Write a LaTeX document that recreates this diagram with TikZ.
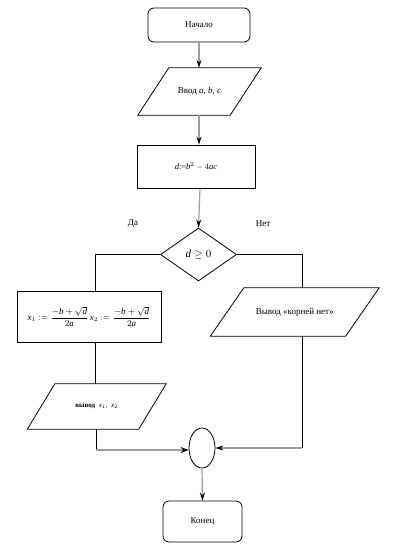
\documentclass[tikz,border=0pt]{standalone}
\usepackage{amsmath}
\usepackage{fontspec}
\setmainfont{Liberation Serif}
\usetikzlibrary{shapes.geometric,arrows.meta,calc}
\begin{document}
\begin{tikzpicture}[x=1pt,y=-1pt,
  every node/.style={font=\fontsize{9}{11}\selectfont, inner sep=1pt},
  term/.style={draw, line width=0.8pt, rounded corners=6pt},
  procbox/.style={draw, line width=0.8pt},
  iobox/.style={},
  decision/.style={draw, line width=0.8pt, diamond, aspect=1.43, inner sep=0pt},
  joint/.style={draw, line width=0.8pt, ellipse, inner sep=0pt},
  flow/.style={draw=black!38, line width=1.2pt, -{Stealth[black,length=8pt,width=5pt]}},
  thickflow/.style={draw=black!38, line width=2.2pt, -{Stealth[black,length=8pt,width=6pt]}},
  link/.style={draw, line width=0.8pt},
  iolines/.style={draw, line width=0.8pt, line join=miter}
]
\useasboundingbox (0,0) rectangle (403,551);

% nodes
\node[term, minimum width=102pt, minimum height=34pt] (start) at (199,25) {Начало};
\node[iobox, minimum width=92pt, minimum height=47pt] (in) at (199.5,91.5) {Ввод $\mathit{a}$,\ $\mathit{b}$,\ $\mathit{c}$};
\node[procbox, minimum width=118pt, minimum height=43pt] (calc) at (196,166.5) {\fontsize{8.5}{10}\selectfont$\mathit{d}$:=$\mathit{b}^2 - 4\mathit{ac}$};
\node[decision, minimum width=76pt, minimum height=53pt] (dec) at (198.5,254.5) {\fontsize{11}{13}\selectfont $\mathit{d} \geq 0$};
\node (yes) at (133,224) {Да};
\node (no) at (263,224) {Нет};
\node[procbox, minimum width=144pt, minimum height=51pt] (roots) at (89,316.5)
  {\fontsize{9}{11}\selectfont $\mathit{x}_1 := \dfrac{-\mathit{b}+\sqrt{\mathit{d}}}{2\mathit{a}}\,\mathit{x}_2 := \dfrac{-\mathit{b}+\sqrt{\mathit{d}}}{2\mathit{a}}$};
\node[iobox, minimum width=135pt, minimum height=48pt] (nor) at (294.75,312) {Вывод «корней нет»};
\node[iobox, minimum width=111pt, minimum height=45pt] (out) at (96.75,406.5)
  {\fontsize{7}{9}\selectfont\textbf{вывод}\ \ \textit{x}$_1$,\ \ \textit{x}$_2$};
\node[joint, minimum width=26pt, minimum height=40pt] (join) at (202,448) {};
\node[term, minimum width=79pt, minimum height=41pt] (stop) at (202.5,521.5) {Конец};

% parallelogram outlines
\draw[iolines] ($(in.north west)+(15.5,0)$) -- ($(in.north east)+(15.5,0)$) -- ($(in.south east)-(15.5,0)$) -- ($(in.south west)-(15.5,0)$) -- cycle;
\draw[iolines] ($(nor.north west)+(16.75,0)$) -- ($(nor.north east)+(16.75,0)$) -- ($(nor.south east)-(16.75,0)$) -- ($(nor.south west)-(16.75,0)$) -- cycle;
\draw[iolines] ($(out.north west)+(13.75,0)$) -- ($(out.north east)+(13.75,0)$) -- ($(out.south east)-(13.75,0)$) -- ($(out.south west)-(13.75,0)$) -- cycle;

% bend coordinates
\coordinate (lb) at (95,254.5);
\coordinate (rb) at (302,254.5);
\coordinate (lt) at (95,291);
\coordinate (rt) at (302,288);
\coordinate (lr) at (95,342);
\coordinate (lo) at (95,384);
\coordinate (ob) at (96,429);
\coordinate (oc) at (96,450);
\coordinate (nb) at (302,336);
\coordinate (nc) at (302,448);

% connectors
\draw[flow] (start.south) -- (start.south |- in.north);
\draw[flow] (start.south |- in.south) -- (start.south |- calc.north);
\draw[flow] ($(calc.south)+(4,0)$) -- (dec.north);
\draw[link] (dec.west) -- (lb) -- (lt);
\draw[link] (dec.east) -- (rb) -- (rt);
\draw[link] (lr) -- (lo);
\draw[link] (ob) -- (oc);
\draw[thickflow] (oc) -- (oc -| join.west);
\draw[link] (nb) -- (nc);
\draw[flow] (nc) -- (join.east);
\draw[flow] (join.south) -- (stop.north);
\end{tikzpicture}
\end{document}
